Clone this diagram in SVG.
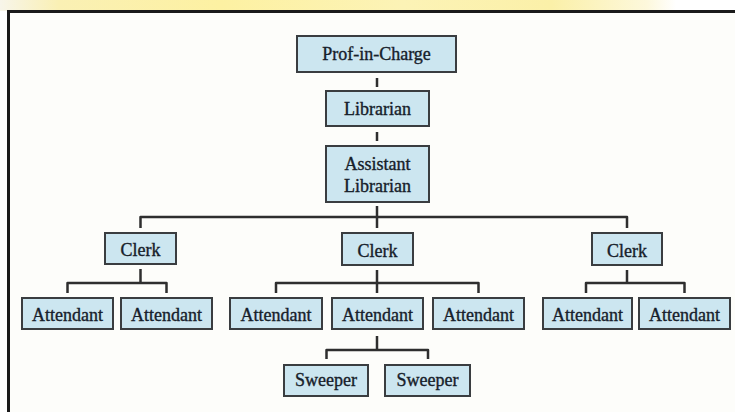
<svg xmlns="http://www.w3.org/2000/svg" width="735" height="412" viewBox="0 0 735 412">
<defs>
<linearGradient id="band" x1="0" y1="0" x2="1" y2="0">
<stop offset="0" stop-color="#f7f5ea"/>
<stop offset="0.08" stop-color="#faf0b4"/>
<stop offset="0.3" stop-color="#fdf1a2"/>
<stop offset="0.55" stop-color="#fcf3b6"/>
<stop offset="0.75" stop-color="#fbf0a8"/>
<stop offset="0.88" stop-color="#fdf8dc"/>
<stop offset="0.92" stop-color="#ffffff"/>
<stop offset="1" stop-color="#ffffff"/>
</linearGradient>
</defs>
<style>
.box{fill:#cce6f0;stroke:#3a3d40;stroke-width:2}
.lbl{font-family:"Liberation Serif","Times New Roman",serif;font-size:18px;fill:#16202a;stroke:#16202a;stroke-width:0.35;text-anchor:middle}
.con{fill:none;stroke:#2e2e2e;stroke-width:2.5;stroke-linejoin:round}
</style>
<rect x="0" y="0" width="735" height="412" fill="#ffffff"/>
<rect x="0" y="0" width="735" height="11" fill="url(#band)"/>
<rect x="8.5" y="11.5" width="730" height="410" fill="#fdfdfa"/>
<path d="M8.5 412 V11.5 H735" fill="none" stroke="#1a1a1a" stroke-width="3"/>
<g id="connectors">
<path class="con" d="M377 78 V87"/>
<path class="con" d="M377 132 V141"/>
<path class="con" d="M377 206 V228"/>
<path class="con" d="M140.5 228 V217 H627 V228"/>
<path class="con" d="M140.5 269 V283"/>
<path class="con" d="M67.5 293 V283 H166.5 V293"/>
<path class="con" d="M377 270 V293"/>
<path class="con" d="M276 293 V283 H478.5 V293"/>
<path class="con" d="M627 270 V283"/>
<path class="con" d="M586 293 V283 H684.5 V293"/>
<path class="con" d="M377 336 V350"/>
<path class="con" d="M326.5 359 V350 H428 V359"/>
</g>
<g id="prof"><rect class="box" x="297" y="36" width="159" height="36"/><text class="lbl" x="376.5" y="60">Prof-in-Charge</text></g>
<g id="librarian"><rect class="box" x="326" y="91" width="103" height="35"/><text class="lbl" x="377.5" y="115">Librarian</text></g>
<g id="asst"><rect class="box" x="326" y="146" width="103" height="56"/><text class="lbl" x="377.5" y="170">Assistant</text><text class="lbl" x="377.5" y="191.5">Librarian</text></g>
<g id="clerk1"><rect class="box" x="105" y="233" width="71" height="31"/><text class="lbl" x="140.5" y="256">Clerk</text></g>
<g id="clerk2"><rect class="box" x="342" y="233" width="71" height="32"/><text class="lbl" x="377.5" y="256.5">Clerk</text></g>
<g id="clerk3"><rect class="box" x="592" y="233" width="70" height="32"/><text class="lbl" x="627" y="256.5">Clerk</text></g>
<g id="att1"><rect class="box" x="22" y="298" width="91" height="31"/><text class="lbl" x="67.5" y="321">Attendant</text></g>
<g id="att2"><rect class="box" x="121" y="298" width="91" height="31"/><text class="lbl" x="166.5" y="321">Attendant</text></g>
<g id="att3"><rect class="box" x="230" y="298" width="92" height="31"/><text class="lbl" x="276" y="321">Attendant</text></g>
<g id="att4"><rect class="box" x="332" y="298" width="91" height="31"/><text class="lbl" x="377.5" y="321">Attendant</text></g>
<g id="att5"><rect class="box" x="433" y="298" width="91" height="31"/><text class="lbl" x="478.5" y="321">Attendant</text></g>
<g id="att6"><rect class="box" x="543" y="298" width="89" height="31"/><text class="lbl" x="587.5" y="321">Attendant</text></g>
<g id="att7"><rect class="box" x="639" y="298" width="91" height="31"/><text class="lbl" x="684.5" y="321">Attendant</text></g>
<g id="sweeper1"><rect class="box" x="284" y="365" width="84" height="31"/><text class="lbl" x="326" y="386">Sweeper</text></g>
<g id="sweeper2"><rect class="box" x="385" y="365" width="85" height="31"/><text class="lbl" x="427.5" y="386">Sweeper</text></g>
</svg>
